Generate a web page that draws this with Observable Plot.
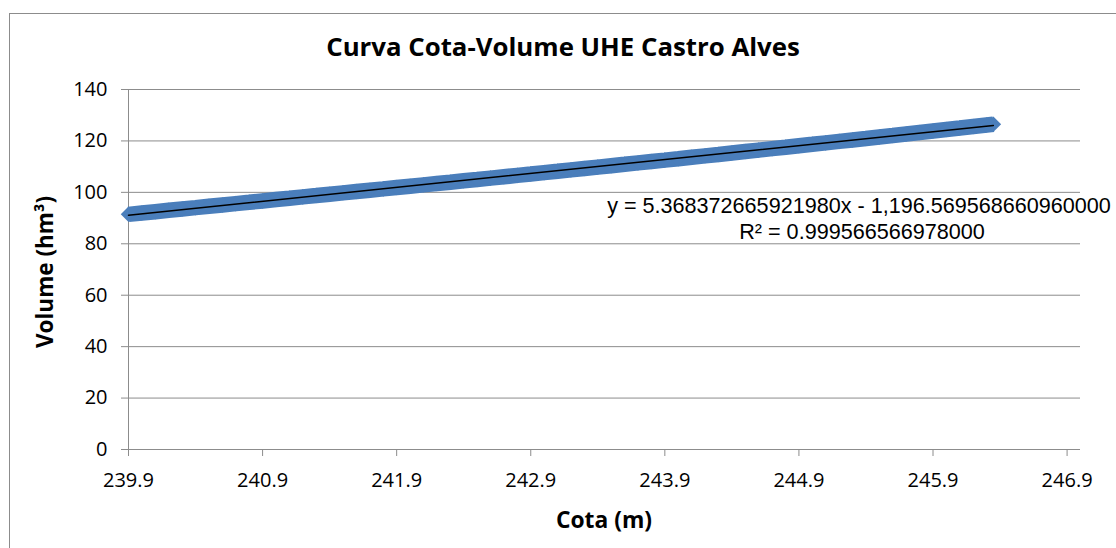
<!DOCTYPE html>
<html><head><meta charset="utf-8">
<script src="https://cdn.jsdelivr.net/npm/d3@7"></script>
<script src="https://cdn.jsdelivr.net/npm/@observablehq/plot@0.6"></script>
<style>
body{margin:0;background:#fff;font-family:"Open Sans",sans-serif;}
#wrap{position:relative;width:1116px;height:548px;overflow:hidden;background:#fff;}
#frame{position:absolute;left:9px;top:13px;width:1200px;height:700px;border:1px solid #8c8c8c;box-sizing:border-box;}
#chart{position:absolute;left:0;top:0;}
.t{position:absolute;white-space:nowrap;color:#000;}
#title{left:563px;top:28px;transform:translateX(-50%);font-weight:700;font-size:25.8px;}
#xlab{left:604px;top:504px;transform:translateX(-50%);font-weight:700;font-size:22.8px;}
#ylab{left:44px;top:272px;transform:translate(-50%,-50%) rotate(-90deg);font-weight:700;font-size:22.5px;}
.eq{left:859px;transform:translateX(-50%);font-family:"Liberation Sans",Arial,sans-serif;font-size:21.6px;line-height:25px;}
</style></head>
<body>
<div id="wrap">
  <div id="frame"></div>
  <div id="chart"></div>
  <div class="t" id="title"></div>
  <div class="t" id="xlab"></div>
  <div class="t" id="ylab"></div>
  <div class="t eq" id="eq1" style="top:193px"></div>
  <div class="t eq" id="eq2" style="top:219px;left:862px"></div>
</div>
<script>
const title = "Curva Cota-Volume UHE Castro Alves";
const xLabel = "Cota (m)";
const yLabel = "Volume (hm³)";
const equationText = "y = 5.368372665921980x - 1,196.569568660960000";
const r2Text = "R² = 0.999566566978000";

const cota = [239.9,240.0,240.1,240.2,240.3,240.4,240.5,240.6,240.7,240.8,
  240.9,241.0,241.1,241.2,241.3,241.4,241.5,241.6,241.7,241.8,
  241.9,242.0,242.1,242.2,242.3,242.4,242.5,242.6,242.7,242.8,
  242.9,243.0,243.1,243.2,243.3,243.4,243.5,243.6,243.7,243.8,
  243.9,244.0,244.1,244.2,244.3,244.4,244.5,244.6,244.7,244.8,
  244.9,245.0,245.1,245.2,245.3,245.4,245.5,245.6,245.7,245.8,
  245.9,246.0,246.1,246.2,246.3,246.35];
const volume = [91.45,91.97,92.49,93.01,93.53,94.05,94.58,95.10,95.62,96.14,
  96.67,97.19,97.71,98.24,98.76,99.29,99.81,100.33,100.85,101.36,
  101.88,102.40,102.92,103.44,103.96,104.49,105.01,105.54,106.07,106.60,
  107.13,107.67,108.20,108.74,109.28,109.82,110.36,110.90,111.45,112.00,
  112.54,113.09,113.65,114.20,114.75,115.31,115.87,116.43,116.99,117.55,
  118.12,118.68,119.25,119.82,120.39,120.96,121.54,122.11,122.69,123.27,
  123.85,124.43,125.01,125.60,126.19,126.48];

const xTicks = [239.9,240.9,241.9,242.9,243.9,244.9,245.9,246.9];
const yTicks = [0,20,40,60,80,100,120,140];
const xDomain = [239.9, 247.0];
const yDomain = [0, 140];

const data = cota.map((c, i) => ({cota: c, volume: volume[i]}));

document.getElementById("title").textContent = title;
document.getElementById("xlab").textContent = xLabel;
document.getElementById("ylab").textContent = yLabel;
document.getElementById("eq1").textContent = equationText;
document.getElementById("eq2").textContent = r2Text;

const blue = "#4A7EBB";
const grid = "#8c8c8c";

const chart = Plot.plot({
  width: 1116,
  height: 548,
  marginLeft: 128,
  marginRight: 36,
  marginTop: 89,
  marginBottom: 99,
  style: {fontFamily: "'Open Sans', sans-serif", fontSize: "20px", color: "#000", background: "transparent"},
  x: {domain: xDomain, ticks: xTicks, tickFormat: d => d.toFixed(1)},
  y: {domain: yDomain, ticks: yTicks},
  marks: [
    Plot.gridY(yTicks, {stroke: grid, strokeOpacity: 1, strokeWidth: 1}),
    Plot.axisY(yTicks, {tickSize: 7, tickPadding: 14, stroke: grid, label: null, fontSize: 20}),
    Plot.axisX(xTicks, {tickSize: 7, tickPadding: 16, stroke: grid, label: null, fontSize: 20, tickFormat: d => d.toFixed(1)}),
    Plot.ruleX([xDomain[0]], {stroke: grid, strokeWidth: 1}),
    Plot.ruleY([0], {stroke: grid, strokeWidth: 1}),
    Plot.line(data, {x: "cota", y: "volume", stroke: blue, strokeWidth: 15.5, strokeLinecap: "butt", strokeLinejoin: "miter"}),
    Plot.dot(data, {x: "cota", y: "volume", symbol: "diamond2", r: 7.0, fill: blue, stroke: "none"}),
    Plot.linearRegressionY(data, {x: "cota", y: "volume", stroke: "#000", strokeWidth: 1.5, ci: 0})
  ]
});
document.getElementById("chart").appendChild(chart);
</script>
</body></html>
